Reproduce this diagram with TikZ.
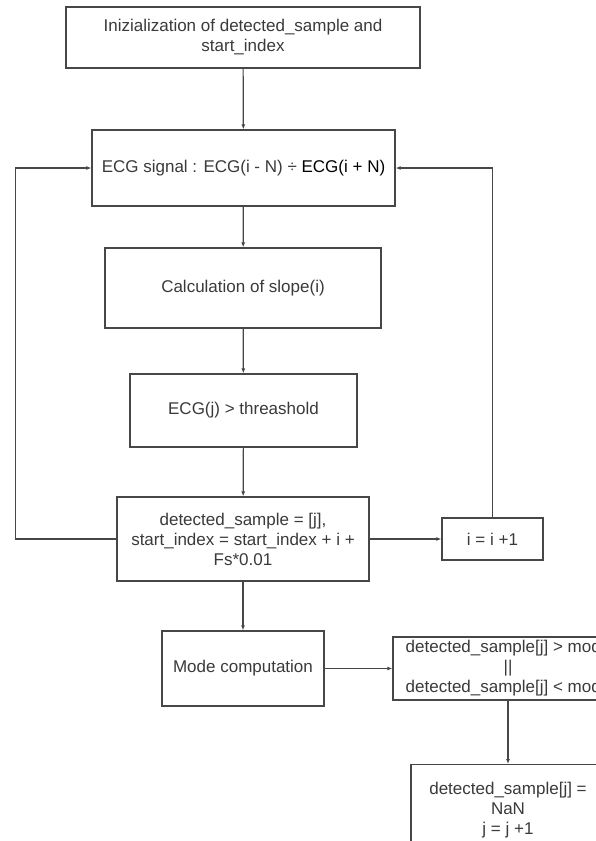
\documentclass[tikz,border=0pt]{standalone}
\usepackage{fontspec}
\setmainfont{Liberation Sans}
\usepackage{tikz}
\usetikzlibrary{arrows.meta}
\definecolor{lineg}{HTML}{474747}
\definecolor{textg}{HTML}{3A3A3A}

\begin{document}
\begin{tikzpicture}[x=1pt, y=-1pt, >={Latex[length=5pt,width=4pt]},
	every node/.style={font=\fontsize{17}{20}\selectfont, text=textg},
	blk/.style={draw=lineg, line width=1.3pt, rectangle, inner sep=0pt, align=center},
	flow/.style={->, draw=lineg, line width=1.2pt}]
	\useasboundingbox (0,0) rectangle (595,841);
	\fill[white] (0,0) rectangle (595,841);
	\node[blk, minimum width=354pt, minimum height=61pt] (init) at (243,37.5) {Inizialization of detected\_sample and\\start\_index};
	\node[blk, minimum width=303pt, minimum height=76pt] (ecg) at (243.5,168) {ECG signal : ECG(i - N) ÷ \textcolor{black}{ECG(i + N)}};
	\node[blk, minimum width=276pt, minimum height=80pt] (slope) at (243,288) {Calculation of slope(i)};
	\node[blk, minimum width=227pt, minimum height=73pt] (thresh) at (243.5,410.5) {ECG(j) > threashold};
	\node[blk, minimum width=252pt, minimum height=84pt] (detect) at (243,539) {detected\_sample = [j],\\start\_index = start\_index + i +\\Fs*0.01};
	\node[blk, minimum width=101pt, minimum height=42pt] (incr) at (492.5,539) {i = i +1};
	\node[blk, minimum width=162pt, minimum height=75pt] (mode) at (243,668.5) {Mode computation};
	\node[blk, minimum width=230pt, minimum height=63pt] (check) at (508,668.5) {detected\_sample[j] > mode\\||\\detected\_sample[j] < mode};
	\node[blk, minimum width=194pt, minimum height=90pt, anchor=north] (nan) at (508,764) {detected\_sample[j] =\\NaN\\j = j +1};
	\draw[flow] (init) -- (ecg);
	\draw[flow] (ecg) -- (slope);
	\draw[flow] (slope) -- (thresh);
	\draw[flow] (thresh) -- (detect);
	\draw[flow] (detect) -- (mode);
	\draw[flow] (detect) -- (incr);
	\draw[flow] (detect.west) -- ++(-101,0) |- (ecg.west);
	\draw[flow] (incr.north) |- (ecg.east);
	\draw[flow] (mode) -- (check);
	\draw[flow] (check.south) -- (nan.north);
\end{tikzpicture}
\end{document}
